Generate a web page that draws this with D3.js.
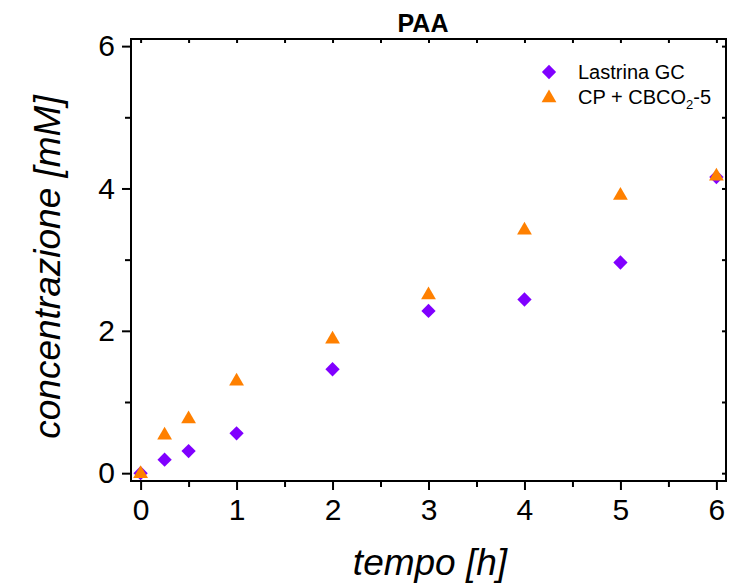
<!DOCTYPE html>
<html>
<head>
<meta charset="utf-8">
<script src="https://cdn.jsdelivr.net/npm/d3@7"></script>
<style>
  body { margin: 0; background: #fff; }
  text { font-family: "Liberation Sans", Arial, sans-serif; }
</style>
</head>
<body>
<svg id="chart" width="737" height="584"></svg>
<script>
// data
var tempo = [0, 0.25, 0.5, 1, 2, 3, 4, 5, 6];
var lastrinaGC = [0, 0.19, 0.31, 0.56, 1.46, 2.28, 2.44, 2.96, 4.16];
var cpCbco2 = [0.02, 0.56, 0.79, 1.32, 1.91, 2.53, 3.44, 3.93, 4.2];
var xTicks = [0, 1, 2, 3, 4, 5, 6];
var yTicks = [0, 2, 4, 6];

var svg = d3.select('#chart');
var pLeft = 131, pRight = 726, pTop = 39, pBottom = 481;

var x = d3.scaleLinear().domain([-0.1, 6.1]).range([pLeft, pRight]);
var y = d3.scaleLinear().domain([-0.11, 6.1]).range([pBottom, pTop]);

var halfX = d3.range(0, 6.01, 0.5);
var oneY = d3.range(0, 6.01, 1);

// frame
svg.append('rect').attr('x', pLeft).attr('y', pTop)
  .attr('width', pRight - pLeft).attr('height', pBottom - pTop)
  .attr('fill', 'none').attr('stroke', '#000').attr('stroke-width', 2);

// bottom axis
var gx = svg.append('g').attr('transform', 'translate(0,' + pBottom + ')')
  .call(d3.axisBottom(x).tickValues(xTicks).tickSize(9).tickPadding(9).tickFormat(d3.format('d')));
gx.selectAll('.tick text').attr('font-size', 30).attr('fill', '#000').style('font-family', '"Liberation Sans", Arial, sans-serif');
svg.append('g').attr('transform', 'translate(0,' + pBottom + ')')
  .call(d3.axisBottom(x).tickValues(halfX.filter(function(d){ return d % 1 !== 0; })).tickSize(6).tickFormat(''));

// left axis
var gy = svg.append('g').attr('transform', 'translate(' + pLeft + ',0)')
  .call(d3.axisLeft(y).tickValues(yTicks).tickSize(9).tickPadding(7).tickFormat(d3.format('d')));
gy.selectAll('.tick text').attr('font-size', 30).attr('fill', '#000').style('font-family', '"Liberation Sans", Arial, sans-serif');
svg.append('g').attr('transform', 'translate(' + pLeft + ',0)')
  .call(d3.axisLeft(y).tickValues([1, 3, 5]).tickSize(6).tickFormat(''));

// top and right inner ticks
svg.append('g').attr('transform', 'translate(0,' + pTop + ')')
  .call(d3.axisBottom(x).tickValues(halfX).tickSize(4).tickFormat(''));
svg.append('g').attr('transform', 'translate(' + pRight + ',0)')
  .call(d3.axisLeft(y).tickValues(oneY).tickSize(4).tickFormat(''));

svg.selectAll('.domain').remove();
svg.selectAll('.tick line').attr('stroke', '#000').attr('stroke-width', 2);

// markers
var diamond = d3.symbol().type(d3.symbolDiamond2).size(130);
var tri = d3.symbol().type(d3.symbolTriangle).size(95);
var triShift = 2; // d3 centres the triangle on its centroid, origin centres its box
var purple = '#8000ff', orange = '#ff8000';

svg.append('g').selectAll('path').data(tempo).join('path')
  .attr('d', diamond)
  .attr('transform', function(d, i){ return 'translate(' + x(d) + ',' + y(lastrinaGC[i]) + ')'; })
  .attr('fill', purple);

svg.append('g').selectAll('path').data(tempo).join('path')
  .attr('d', tri)
  .attr('transform', function(d, i){ return 'translate(' + x(d) + ',' + (y(cpCbco2[i]) + triShift) + ')'; })
  .attr('fill', orange);

// title
svg.append('text').attr('x', 423).attr('y', 32).attr('text-anchor', 'middle')
  .attr('font-size', 25).attr('font-weight', 'bold').text('PAA');

// axis titles
svg.append('text').attr('x', 430).attr('y', 575).attr('text-anchor', 'middle')
  .attr('font-size', 37).attr('font-style', 'italic').text('tempo [h]');
svg.append('text').attr('transform', 'translate(60,267) rotate(-90)').attr('text-anchor', 'middle')
  .attr('font-size', 37).attr('font-style', 'italic').text('concentrazione [mM]');

// legend
var leg = svg.append('g');
leg.append('path').attr('d', diamond).attr('transform', 'translate(549,72)').attr('fill', purple);
leg.append('path').attr('d', tri).attr('transform', 'translate(549,' + (96 + triShift) + ')').attr('fill', orange);
leg.append('text').attr('x', 578).attr('y', 79).attr('font-size', 20).text('Lastrina GC');
var t2 = leg.append('text').attr('x', 578).attr('y', 104).attr('font-size', 20);
t2.append('tspan').text('CP + CBCO');
t2.append('tspan').attr('font-size', 13).attr('dy', 5).text('2');
t2.append('tspan').attr('dy', -5).text('-5');
</script>
</body>
</html>
